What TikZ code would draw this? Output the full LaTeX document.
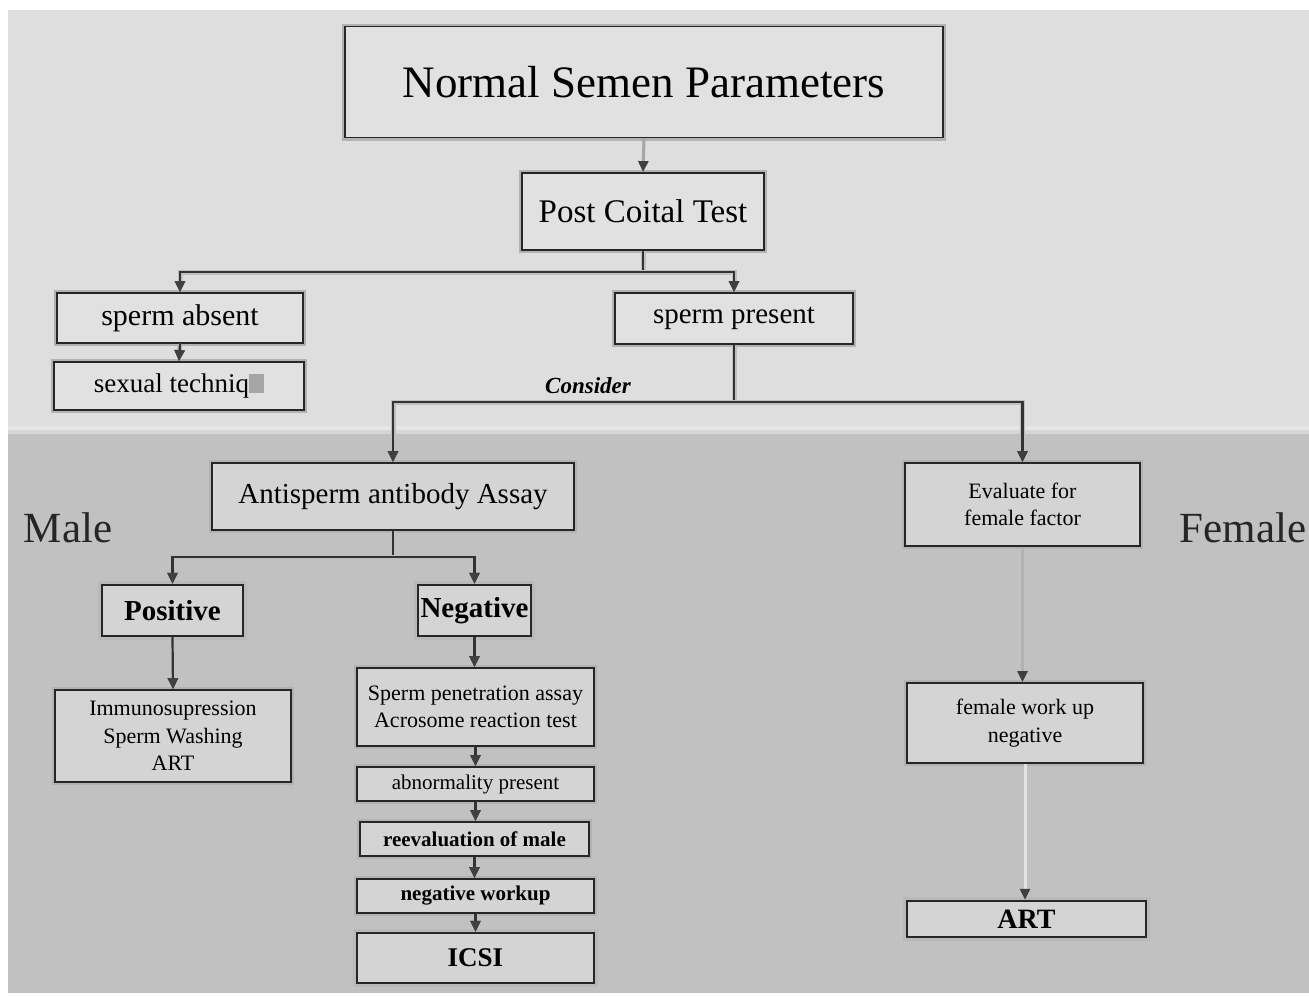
\documentclass[tikz,border=0pt]{standalone}
\usepackage{fontspec}
\setmainfont{Liberation Serif}
\usetikzlibrary{arrows.meta}
\definecolor{upperbg}{RGB}{222,222,222}
\definecolor{lowerbg}{RGB}{193,193,193}
\definecolor{upperfill}{RGB}{225,225,225}
\definecolor{lowerfill}{RGB}{212,212,212}
\newcommand{\fs}[1]{\fontsize{#1}{1.25\dimexpr#1pt\relax}\selectfont}
\tikzset{
  x=1pt, y=-1pt,
  box/.style={draw=black!85, line width=1.8pt, inner sep=0pt, align=center,
    preaction={draw=gray!60, line width=6pt}},
  topbox/.style={box, fill=upperfill},
  lowbox/.style={box, fill=lowerfill},
  heavybox/.style={lowbox, line width=2.4pt, preaction={draw=gray!55, line width=8pt}},
  tip/.style={-{Triangle[length=11pt,width=10pt,color=black!75]}},
  link/.style={draw=black!80, line width=2.2pt,
    preaction={draw=gray!50, line width=5pt}},
  conn/.style={link, tip},
  paleconn/.style={draw=gray!60, line width=3pt, tip},
  faintconn/.style={draw=gray!22, line width=3pt, tip},
  side/.style={font=\fs{43}, text=black!85, inner sep=0pt},
}
\begin{document}
\begin{tikzpicture}
\useasboundingbox (0,0) rectangle (1309,996);
% page background: white margin, light upper band, darker lower band
\fill[white] (0,0) rectangle (1309,996);
\fill[upperbg] (8,10) rectangle (1309,430);
\fill[lowerbg] (8,430) rectangle (1309,993);
\fill[gray!15, opacity=0.5] (8,426) rectangle (1309,434);

% upper part of the chart
\node[topbox, minimum width=598, minimum height=111, font=\fs{45}]
  (nsp) at (644,82) {Normal Semen Parameters};
\node[topbox, minimum width=242, minimum height=77, font=\fs{33}]
  (pct) at (643,211.5) {Post Coital Test};
\node[topbox, minimum width=246, minimum height=50, font=\fs{30}]
  (sa) at (180,318) {sperm absent};
\node[topbox, minimum width=250, minimum height=48, font=\fs{27}]
  (st) at (179,386) {sexual techniq\textcolor{gray!70}{\rule[0pt]{0.55em}{0.7em}}};
\node[topbox, minimum width=238, minimum height=51, font=\fs{29}]
  (sp) at (734,318.5) {sperm present};

% lower part: male branch
\node[lowbox, minimum width=362, minimum height=67, font=\fs{29}]
  (aaa) at (393,496.5) {Antisperm antibody Assay};
\node[heavybox, minimum width=141, minimum height=51, font=\fs{29}\bfseries]
  (pos) at (172.5,610.5) {Positive};
\node[heavybox, minimum width=113, minimum height=51, font=\fs{29}\bfseries]
  (neg) at (474.5,610.5) {Negative};
\node[lowbox, minimum width=236, minimum height=92, font=\fs{22}]
  (imm) at (173,736) {Immunosupression\\Sperm Washing\\ART};
\node[lowbox, minimum width=237, minimum height=78, font=\fs{22}]
  (spa) at (475.5,707) {Sperm penetration assay\\Acrosome reaction test};
\node[lowbox, minimum width=237, minimum height=34, font=\fs{21}]
  (ab) at (475.5,784) {abnormality present};
\node[lowbox, minimum width=229, minimum height=34, font=\fs{21}\bfseries]
  (re) at (474.5,839) {reevaluation of male};
\node[lowbox, minimum width=237, minimum height=34, font=\fs{21}\bfseries]
  (nw) at (475.5,896) {negative workup};
\node[heavybox, minimum width=237, minimum height=50, font=\fs{27}\bfseries]
  (icsi) at (475.5,958) {ICSI};

% lower part: female branch
\node[lowbox, minimum width=235, minimum height=83, font=\fs{22}]
  (eff) at (1022.5,504.5) {Evaluate for\\female factor};
\node[lowbox, minimum width=236, minimum height=80, font=\fs{22}]
  (fwu) at (1025,723) {female work up\\negative};
\node[heavybox, minimum width=239, minimum height=36, font=\fs{28}\bfseries]
  (art) at (1026.5,919) {ART};

% side labels
\node[side] (male) at (68,528) {Male};
\node[side] (female) at (1243,528) {Female};

% junction points of the branching connectors
\coordinate (j1) at (643,272);
\coordinate (j2) at (734,402);
\coordinate (j3) at (393,557);

% connectors
\draw[paleconn, draw=gray!70] (nsp.south) -- (pct.north);
\draw[link] (pct.south) -- (j1);
\draw[conn] (j1) -| (sa.north);
\draw[conn] (j1) -| (sp.north);
\draw[conn] (sa.south) -- (st.north);
\draw[link] (sp.south) -- (j2);
\draw[conn] (j2) -| (aaa.north);
\draw[conn] (j2) -| (eff.north);
\node[font=\fs{23}\bfseries\itshape, inner sep=1pt] (consider) at (588,386) {Consider};

\draw[link] (aaa.south) -- (j3);
\draw[conn] (j3) -| (pos.north);
\draw[conn] (j3) -| (neg.north);
\draw[conn] (pos.south) -- (imm.north);
\draw[conn] (neg.south) -- (neg.south |- spa.north);
\draw[conn] (spa.south) -- (spa.south |- ab.north);
\draw[conn] (ab.south) -- (ab.south |- re.north);
\draw[conn] (re.south) -- (re.south |- nw.north);
\draw[conn] (nw.south) -- (nw.south |- icsi.north);

\draw[paleconn] (eff.south) -- (eff.south |- fwu.north);
\draw[faintconn] (fwu.south) -- (fwu.south |- art.north);
\end{tikzpicture}
\end{document}
